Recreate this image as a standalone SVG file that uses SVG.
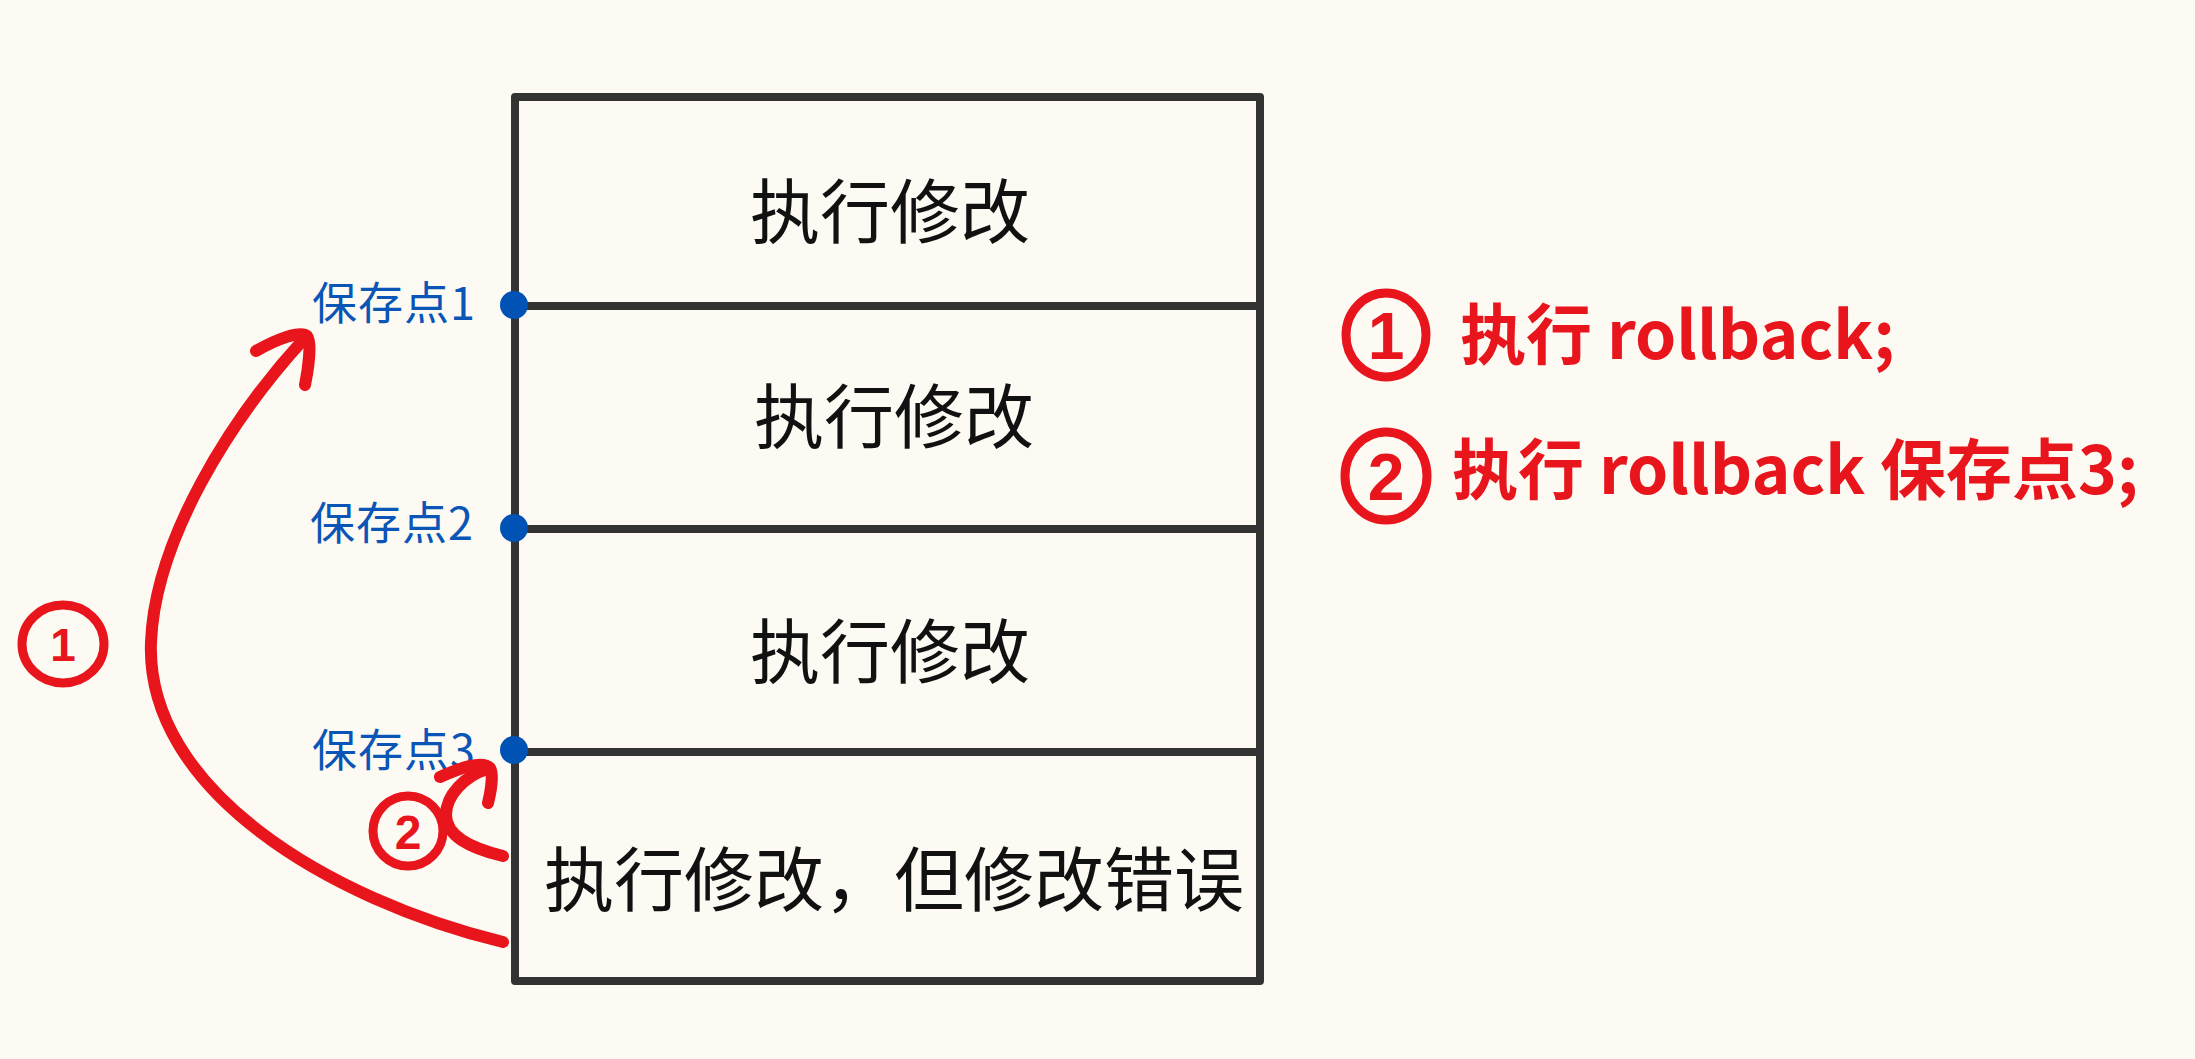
<svg xmlns="http://www.w3.org/2000/svg" width="2195" height="1059" viewBox="0 0 2195 1059">
<style>
.box{fill:none;stroke:#333333;stroke-width:8;stroke-linecap:round;stroke-linejoin:round}
.div{stroke:#333333;stroke-width:8;stroke-linecap:butt}
.dot{fill:#0052b4}
.lbl{font-family:"Noto Sans CJK SC","Noto Sans",sans-serif;font-size:45px;fill:#0a55b5;letter-spacing:1px}
.cell{font-family:"Noto Sans CJK SC","Noto Sans",sans-serif;font-size:70px;fill:#111111;text-anchor:middle}
.red{fill:none;stroke:#e8151c;stroke-width:12;stroke-linecap:round;stroke-linejoin:round}
.ring{fill:none;stroke:#e8151c;stroke-width:9}
.num{font-family:"Liberation Sans","Noto Sans",sans-serif;font-weight:bold;fill:#e8151c;text-anchor:middle}
.note{font-family:"Noto Sans CJK SC","Noto Sans",sans-serif;font-weight:bold;font-size:66px;fill:#e8151c}
</style>
<rect width="2195" height="1059" fill="#fcfaf3"/>
<g id="stack">
<rect class="box" x="515" y="97" width="745" height="884"/>
<line class="div" x1="515" y1="306" x2="1260" y2="306"/>
<line class="div" x1="515" y1="529" x2="1260" y2="529"/>
<line class="div" x1="515" y1="752" x2="1260" y2="752"/>
</g>
<g id="cell1"><text class="cell" x="890" y="238">执行修改</text></g>
<g id="cell2"><text class="cell" x="894" y="443">执行修改</text></g>
<g id="cell3"><text class="cell" x="890" y="678">执行修改</text></g>
<g id="cell4"><text class="cell" x="894" y="906">执行修改，但修改错误</text></g>
<g id="sp1"><circle class="dot" cx="514" cy="305" r="14"/><text class="lbl" x="312" y="320">保存点1</text></g>
<g id="sp2"><circle class="dot" cx="514" cy="528" r="14"/><text class="lbl" x="310" y="540">保存点2</text></g>
<g id="sp3"><circle class="dot" cx="514" cy="750" r="14"/><text class="lbl" x="312" y="767">保存点3</text></g>
<g id="connectors">
<path class="red" d="M 503 942 C 330 900, 145 790, 151 642 C 155 540, 230 420, 303 340"/>
<path class="red" d="M 256 351 C 275 340, 300 330, 307 336 C 312 342, 308 370, 305 385"/>
<path class="red" stroke-width="11" d="M 503 856 C 470 848, 446 836, 446 815 C 446 795, 465 776, 487 769"/>
<path class="red" stroke-width="11" d="M 440 777 C 460 768, 482 760, 490 768 C 494 775, 490 795, 488 803"/>
</g>
<g id="mark1-left"><ellipse class="ring" cx="63" cy="644" rx="41" ry="39"/><text class="num" x="63" y="661" font-size="46">1</text></g>
<g id="mark2-left"><ellipse class="ring" cx="408" cy="831" rx="35" ry="35"/><text class="num" x="408" y="849" font-size="48">2</text></g>
<g id="note1"><ellipse class="ring" stroke-width="10" cx="1386" cy="335" rx="40" ry="42"/><text class="num" x="1386" y="359" font-size="66">1</text><text class="note" x="1460" y="359">执行 rollback;</text></g>
<g id="note2"><ellipse class="ring" stroke-width="10" cx="1386" cy="476" rx="41" ry="44"/><text class="num" x="1386" y="500" font-size="66">2</text><text class="note" x="1452" y="494">执行 rollback 保存点3;</text></g>
</svg>
